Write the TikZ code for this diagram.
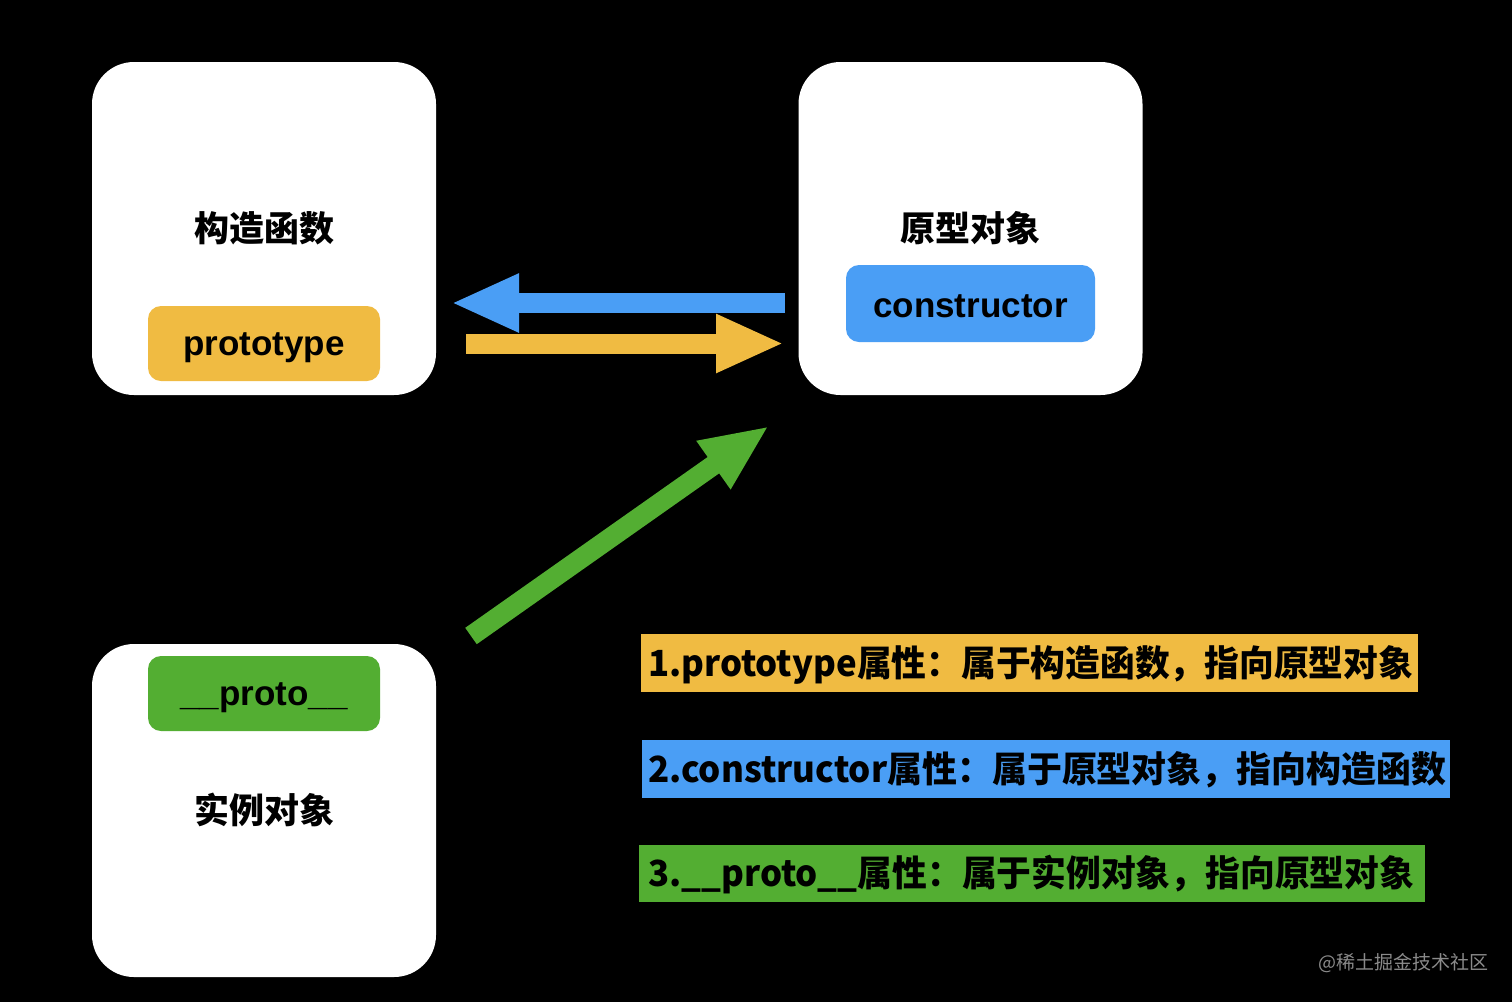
\documentclass[tikz,border=0pt]{standalone}
\usepackage{fontspec}
\usepackage{graphicx}
\setmainfont{Liberation Sans}
\newfontfamily\cjk{Noto Sans CJK SC}
\usetikzlibrary{arrows.meta}
\definecolor{cyel}{HTML}{F0BB42}
\definecolor{cblue}{HTML}{4A9EF5}
\definecolor{cgreen}{HTML}{53AE32}
\definecolor{cwm}{HTML}{8A8A8A}
\newcommand{\fitto}[2]{\resizebox{#1}{\height}{#2}}
\tikzset{
  card/.style={fill=white, draw=none, rounded corners=42pt, minimum width=344pt, minimum height=333pt, inner sep=0pt},
  pill/.style={draw=none, rounded corners=13pt, inner sep=0pt},
  pilltext/.style={inner sep=0pt, anchor=base, font=\fontsize{35}{40}\selectfont\bfseries},
  title/.style={font=\cjk\bfseries\fontsize{35}{40}\selectfont, inner sep=0pt},
  legend/.style={draw=none, inner sep=0pt, font=\cjk\bfseries\fontsize{36}{40}\selectfont},
  fatarrow/.style={line width=20pt, -{Triangle[length=68pt,width=54pt]}},
}
\begin{document}
\begin{tikzpicture}[x=1pt,y=-1pt]
\fill[black] (0,0) rectangle (1512,1002);
\useasboundingbox (0,0) rectangle (1512,1002);
% cards
\node[card] (ctor) at (264,228.5) {};
\node[card] (proto) at (970.5,228.5) {};
\node[card] (inst) at (264,810.5) {};
% titles
\node[title] (ctorT) at (264,228) {构造函数};
\node[title] (protoT) at (970,228) {原型对象};
\node[title] (instT) at (264,810) {实例对象};
% pills
\node[pill, fill=cyel, minimum width=232pt, minimum height=75pt] (ptype) at (264,343.5) {};
\node[pill, fill=cblue, minimum width=249pt, minimum height=77pt] (cons) at (970.5,303.5) {};
\node[pill, fill=cgreen, minimum width=232pt, minimum height=75pt] (dproto) at (264,693.5) {};
\node[pilltext] (ptypeT) at (264,355) {prototype};
\node[pilltext] (consT) at (970.5,317) {constructor};
\node[pilltext] (dprotoT) at (264,705) {\_\_proto\_\_};
% arrow endpoints
\coordinate (bS) at (785,303);
\coordinate (bE) at (451,303);
\coordinate (yS) at (466,343.5);
\coordinate (yE) at (784,343.5);
\coordinate (gS) at (471,636);
\coordinate (gE) at (769,426);
\draw[fatarrow, draw=cblue, fill=cblue] (bS) -- (bE);
\draw[fatarrow, draw=cyel, fill=cyel] (yS) -- (yE);
\draw[fatarrow, draw=cgreen, fill=cgreen] (gS) -- (gE);
% legend
\node[legend, fill=cyel, minimum width=777pt, minimum height=58pt] (l1) at (1029.5,663) {};
\node[legend, fill=cblue, minimum width=808pt, minimum height=58pt] (l2) at (1046,769) {};
\node[legend, fill=cgreen, minimum width=786pt, minimum height=57pt] (l3) at (1032,873.5) {};
\node[legend, anchor=west] (t1) at (648,665) {\fitto{765pt}{1.prototype属性：属于构造函数，指向原型对象}};
\node[legend, anchor=west] (t2) at (648,770) {\fitto{798pt}{2.constructor属性：属于原型对象，指向构造函数}};
\node[legend, anchor=west] (t3) at (648,875) {\fitto{766pt}{3.\_\_proto\_\_属性：属于实例对象，指向原型对象}};
% watermark
\node[font=\cjk\fontsize{19}{22}\selectfont, text=cwm, inner sep=0pt] (wm) at (1403,963) {@稀土掘金技术社区};
\end{tikzpicture}
\end{document}
